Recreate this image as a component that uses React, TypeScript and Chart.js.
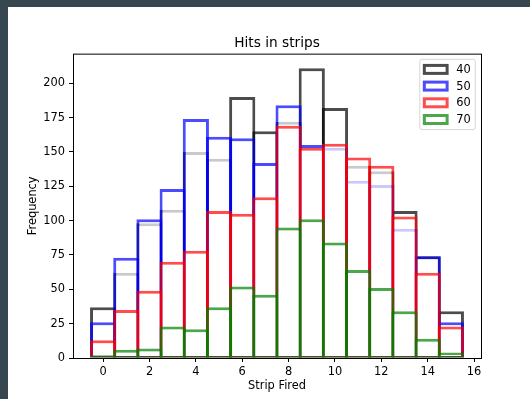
import React, { useEffect, useRef } from 'react';
import { Chart, registerables } from 'chart.js';

Chart.register(...registerables);

// ---- data ----
const strips = [0, 1, 2, 3, 4, 5, 6, 7, 8, 9, 10, 11, 12, 13, 14, 15];
const hits40 = [37, 62, 98, 108, 150, 145, 190, 165, 172, 211, 182, 140, 136, 107, 74, 34];
const hits50 = [26, 73, 101, 123, 174, 161, 160, 142, 184, 155, 153, 129, 126, 94, 74, 26];
const hits60 = [13, 35, 49, 70, 78, 107, 105, 117, 169, 153, 156, 146, 140, 103, 62, 23];
const hits70 = [2, 6, 7, 23, 21, 37, 52, 46, 95, 101, 84, 64, 51, 34, 14, 4];
const seriesLabels = ['40', '50', '60', '70'];
const xTicks = [0, 2, 4, 6, 8, 10, 12, 14, 16];
const yTicks = [0, 25, 50, 75, 100, 125, 150, 175, 200];

// ---- style ----
const seriesColors = ['rgba(0,0,0,0.7)', 'rgba(0,0,255,0.7)', 'rgba(255,0,0,0.7)', 'rgba(0,128,0,0.7)'];
const faceColor = 'rgba(255,255,255,0.7)';
const FONT = "'DejaVu Sans'";
const TICK_FS = 11.4;
const LINE_W = 3;

const framePlugin = {
  id: 'axesFrame',
  afterDatasetsDraw(chart: any) {
    const { ctx, chartArea: a } = chart;
    ctx.save();
    ctx.strokeStyle = '#000';
    ctx.lineWidth = 1;
    ctx.strokeRect(a.left + 0.5, a.top + 0.5, a.right - a.left, a.bottom - a.top);
    ctx.restore();
  },
};

const boxLegendPlugin = {
  id: 'boxLegend',
  afterDraw(chart: any) {
    const { ctx, chartArea: a } = chart;
    const fs = TICK_FS;
    const axPad = 0.5 * fs;
    const borderPad = 0.4 * fs;
    const handleLen = 2 * fs;
    const handleH = 0.7 * fs;
    const textPad = 0.8 * fs;
    const textH = 0.965 * fs;
    const gap = 0.5 * fs;
    const ds = chart.data.datasets;
    ctx.save();
    ctx.font = `${fs}px ${FONT}`;
    const textW = Math.max(...ds.map((d: any) => ctx.measureText(d.label).width));
    const w = 2 * borderPad + handleLen + textPad + textW;
    const h = 2 * borderPad + ds.length * textH + (ds.length - 1) * gap;
    const right = a.right - axPad;
    const top = a.top + axPad;
    const left = right - w;
    // frame
    const r = 0.2 * fs;
    ctx.beginPath();
    ctx.moveTo(left + r, top);
    ctx.lineTo(right - r, top);
    ctx.arcTo(right, top, right, top + r, r);
    ctx.lineTo(right, top + h - r);
    ctx.arcTo(right, top + h, right - r, top + h, r);
    ctx.lineTo(left + r, top + h);
    ctx.arcTo(left, top + h, left, top + h - r, r);
    ctx.lineTo(left, top + r);
    ctx.arcTo(left, top, left + r, top, r);
    ctx.closePath();
    ctx.fillStyle = 'rgba(255,255,255,0.8)';
    ctx.fill();
    ctx.strokeStyle = 'rgba(204,204,204,0.8)';
    ctx.lineWidth = 1;
    ctx.stroke();
    ds.forEach((d: any, i: number) => {
      const cy = top + borderPad + textH / 2 + i * (textH + gap);
      const hx = left + borderPad;
      ctx.fillStyle = d.backgroundColor;
      ctx.fillRect(hx, cy - handleH / 2, handleLen, handleH);
      ctx.strokeStyle = d.borderColor;
      ctx.lineWidth = LINE_W;
      ctx.strokeRect(hx, cy - handleH / 2, handleLen, handleH);
      ctx.fillStyle = '#000';
      ctx.textAlign = 'left';
      ctx.textBaseline = 'middle';
      ctx.fillText(d.label, hx + handleLen + textPad, cy + 0.5);
    });
    ctx.restore();
  },
};

export default function App() {
  const ref = useRef<HTMLCanvasElement>(null);

  useEffect(() => {
    const canvas = ref.current;
    if (!canvas) return;
    const allSeries = [hits40, hits50, hits60, hits70];
    const datasets = allSeries.map((vals, i) => ({
      label: seriesLabels[i],
      data: strips.map((s, j) => ({ x: s, y: vals[j] })),
      borderColor: seriesColors[i],
      backgroundColor: faceColor,
      borderWidth: { top: LINE_W, left: LINE_W, right: LINE_W, bottom: LINE_W / 2 },
      borderSkipped: false as any,
      order: allSeries.length - 1 - i,
      grouped: false,
      categoryPercentage: 1,
      barPercentage: 1.13,
      inflateAmount: 0,
    }));

    const gridOpts = {
      display: true,
      drawOnChartArea: false,
      drawTicks: true,
      tickLength: 4,
      color: '#000',
      lineWidth: 1,
      offset: false,
    };

    const chart = new Chart(canvas, {
      type: 'bar',
      data: { datasets: datasets as any },
      options: {
        responsive: false,
        animation: false,
        devicePixelRatio: 1,
        font: { family: FONT },
        layout: { padding: { left: 0, right: 49, top: 0, bottom: 0 } },
        plugins: {
          legend: { display: false },
          tooltip: { enabled: false },
          title: {
            display: true,
            text: 'Hits in strips',
            color: '#000',
            fullSize: false,
            font: { size: 13.7, weight: 'normal', family: FONT },
            padding: { top: 28.4, bottom: 1.8 },
          },
        },
        scales: {
          x: {
            type: 'linear',
            min: -1.3,
            max: 16.3,
            offset: false,
            afterBuildTicks: (axis: any) => {
              axis.ticks = xTicks.map((v) => ({ value: v }));
            },
            afterFit: (axis: any) => {
              axis.height = 41;
            },
            grid: gridOpts,
            border: { display: false },
            ticks: {
              color: '#000',
              font: { size: TICK_FS, family: FONT },
              padding: 3,
              maxRotation: 0,
              autoSkip: false,
            },
            title: {
              display: true,
              text: 'Strip Fired',
              color: '#000',
              font: { size: TICK_FS, family: FONT },
              padding: { top: 0, bottom: 6 },
            },
          },
          y: {
            type: 'linear',
            min: 0,
            max: 221.55,
            afterBuildTicks: (axis: any) => {
              axis.ticks = yTicks.map((v) => ({ value: v }));
            },
            afterFit: (axis: any) => {
              axis.width = 65;
            },
            grid: gridOpts,
            border: { display: false },
            ticks: {
              color: '#000',
              font: { size: TICK_FS, family: FONT },
              padding: 4,
              autoSkip: false,
            },
            title: {
              display: true,
              text: 'Frequency',
              color: '#000',
              font: { size: TICK_FS, family: FONT },
              padding: { top: 18, bottom: 0 },
            },
          },
        } as any,
      },
      plugins: [framePlugin, boxLegendPlugin],
    });

    return () => chart.destroy();
  }, []);

  return (
    <div style={{ position: 'fixed', left: 0, top: 0, width: '100vw', height: '100vh', background: '#37474f' }}>
      <div style={{ position: 'absolute', left: 8, top: 7, right: 0, bottom: 0, background: '#fff' }}>
        <canvas ref={ref} width={522} height={392} style={{ display: 'block', width: 522, height: 392 }} />
      </div>
    </div>
  );
}
